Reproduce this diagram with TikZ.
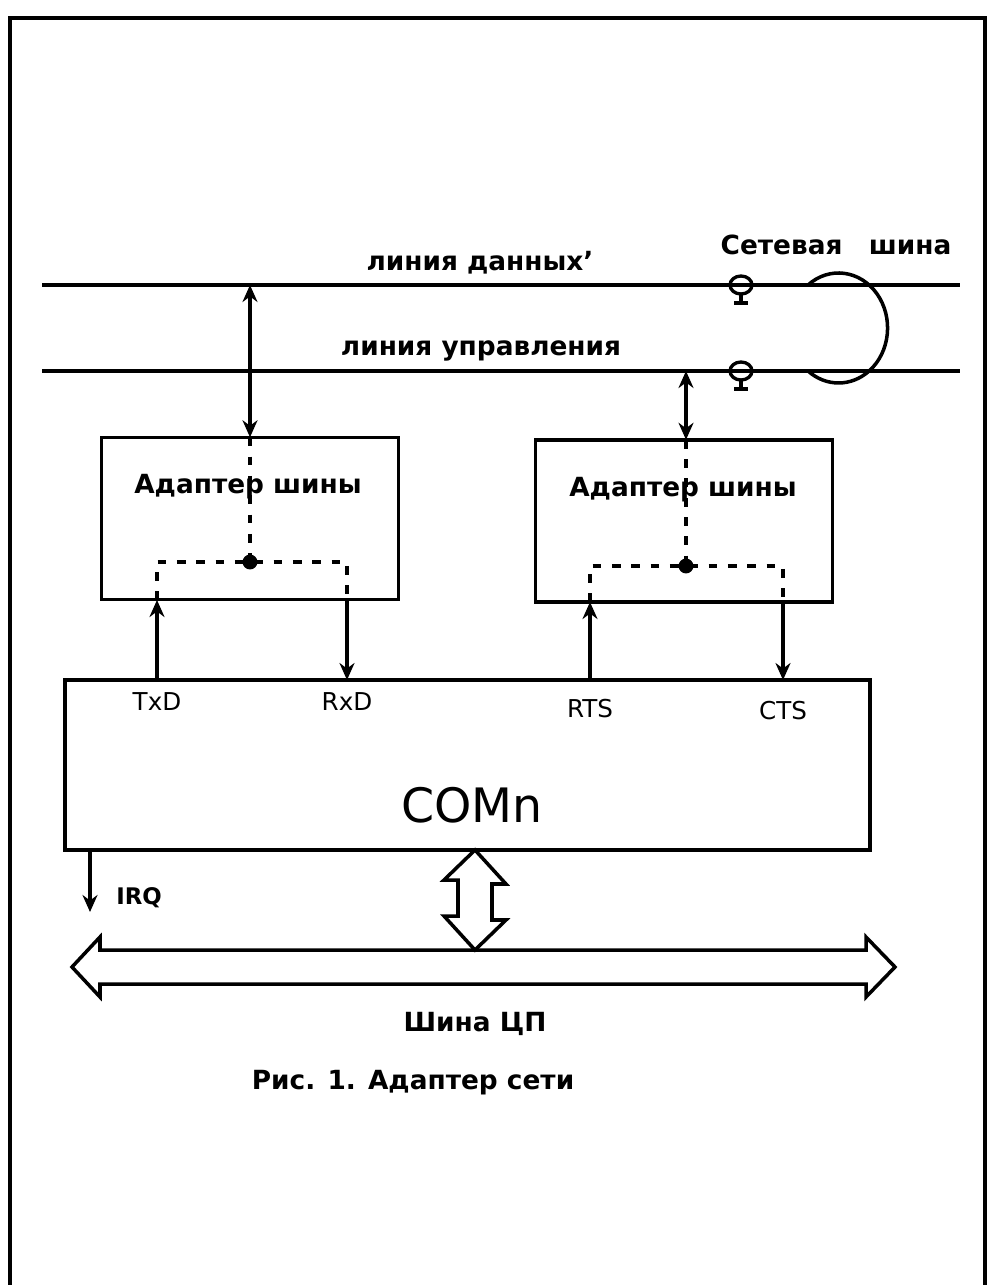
\documentclass[tikz,border=0pt]{standalone}
\usepackage{fontspec}
\setmainfont{DejaVu Sans}
\usetikzlibrary{arrows.meta, positioning}

\begin{document}
\begin{tikzpicture}[x=0.02cm, y=0.02cm,
      every node/.style={inner sep=0pt, outer sep=0pt},
      frame/.style={line width=2.6pt},
      busline/.style={line width=2pt},
      adapter/.style={draw, line width=2pt, minimum width=5.95cm, minimum height=3.25cm},
      combox/.style={draw, line width=2pt, minimum width=16.1cm, minimum height=3.4cm},
      arr/.style={-{Stealth[length=3.4mm, width=3mm]}, line width=2pt},
      darr/.style={{Stealth[length=3.4mm, width=3mm]}-{Stealth[length=3.4mm, width=3mm]}, line width=2pt},
      inner/.style={dash pattern=on 5pt off 6pt, line width=1.8pt},
      hollow/.style={draw, line width=2pt, fill=white, line join=miter},
      lbl/.style={font=\bfseries\fontsize{15}{17}\selectfont},
      sig/.style={font=\fontsize{14}{16}\selectfont},
      dot/.style={circle, fill, minimum size=8.5pt}
    ]
    \useasboundingbox (0,0) rectangle (992,-1285);
    % frame, open at the bottom
    \draw[frame] (10,-1285) -- (10,-18) -- (985,-18) -- (985,-1285);

    % network bus
    \coordinate (dW) at (42,-285);   \coordinate (dE) at (960,-285);
    \coordinate (cW) at (42,-371);   \coordinate (cE) at (960,-371);
    \draw[busline] (dW) -- (dE);
    \draw[busline] (cW) -- (cE);
    \node[lbl, anchor=south] (dlabel) at (480,-274) {линия данных'};
    \node[lbl, anchor=south] (clabel) at (481,-361) {линия управления};
    \node[lbl, anchor=south] (netbus) at (836,-255) {Сетевая\quad шина};
    \foreach \y in {285,371} {
      \draw[line width=1.9pt] (741,-\y) ellipse (11 and 9);
      \draw[line width=1.9pt] (741,-\y-9) -- (741,-\y-18);
      \draw[line width=1.9pt] (734,-\y-18) -- (748,-\y-18);
    }
    \draw[line width=2pt] (808,-285) arc[start angle=128.6, end angle=-128.6, x radius=49, y radius=55];

    % adapters
    \node[adapter] (adL) at (250,-518.5) {};
    \node[adapter] (adR) at (684,-521) {};
    \node[lbl] at (248,-487) {Адаптер шины};
    \node[lbl] at (683,-490) {Адаптер шины};

    \coordinate (dL) at (250,-285);
    \coordinate (cR) at (686,-371);
    \draw[darr] (dL) -- (adL.north);
    \draw[darr] (cR) -- (adR.north -| cR);

    \coordinate (jL) at (250,-562);
    \coordinate (jR) at (686,-566);
    \coordinate (txd) at (157,-600);
    \coordinate (rxd) at (347,-600);
    \coordinate (rts) at (590,-602);
    \coordinate (cts) at (783,-602);
    \draw[inner] (adL.north) -- (jL);
    \draw[inner] (txd) |- (jL) -| (rxd);
    \draw[inner] (adR.north -| jR) -- (jR);
    \draw[inner] (rts) |- (jR) -| (cts);
    \node[dot] at (jL) {};
    \node[dot] at (jR) {};

    % serial port
    \node[combox] (com) at (467.5,-765) {};
    \draw[arr] (com.north -| txd) -- (txd);
    \draw[arr] (rxd) -- (com.north -| rxd);
    \draw[arr] (com.north -| rts) -- (rts);
    \draw[arr] (cts) -- (com.north -| cts);
    \node[sig, below=7pt of com.north -| txd] {TxD};
    \node[sig, below=7pt of com.north -| rxd] {RxD};
    \node[sig, below=11pt of com.north -| rts] {RTS};
    \node[sig, below=12pt of com.north -| cts] {CTS};
    \node[font=\fontsize{27}{31}\selectfont] at (472,-805) {COMn};

    \coordinate (irq) at (90,-912);
    \draw[arr] (com.south -| irq) -- (irq);
    \node[font=\bfseries\fontsize{13}{15}\selectfont, right=15pt of irq, yshift=8pt] {IRQ};

    % CPU bus
    \draw[hollow] (72,-967) -- (100,-937) -- (100,-950) -- (866,-950) -- (866,-937)
      -- (895,-967) -- (866,-997) -- (866,-984) -- (100,-984) -- (100,-997) -- cycle;
    \coordinate (bus) at (475,-950);
    \draw[hollow] (com.south -| bus) -- ++(31,-34) -- ++(-14,0) -- ++(0,-36) -- ++(14,0)
      -- (bus) -- ++(-31,34) -- ++(14,0) -- ++(0,36) -- ++(-14,0) -- cycle;
    \node[lbl] at (475,-1024) {Шина ЦП};
    \node[lbl] at (413,-1083) {Рис. 1. Адаптер сети};
  \end{tikzpicture}
\end{document}
